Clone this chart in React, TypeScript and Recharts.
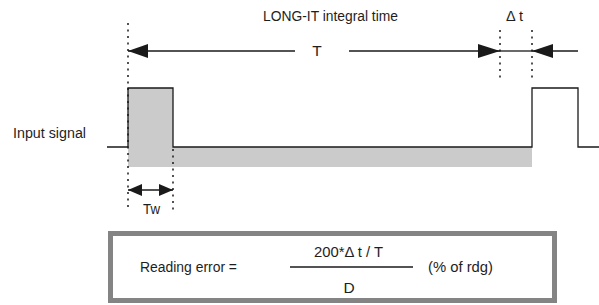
import { ComposedChart, Line, XAxis, YAxis, ReferenceArea, ReferenceLine, Customized } from "recharts";

// signal edges (time units) and levels (0 = low, 1 = high)
const signalTimes = [-21, 0, 45, 404, 450, 471];
const signalLevels = [0, 1, 0, 1, 0, 0];

const pulseWidth = 45; // Tw
const integralTime = 372; // T
const deltaT = 32; // Δt
const integralDepth = 0.34;

const signalData = signalTimes.map((t, i) => ({ t, level: signalLevels[i] }));

const W = 599;
const H = 305;
const X_DOMAIN: [number, number] = [-128, 471];
const BASE_PX = 147;
const LEVEL_PX = 59;
const Y_DOMAIN: [number, number] = [-(H - BASE_PX) / LEVEL_PX, BASE_PX / LEVEL_PX];
const row = (px: number) => (BASE_PX - px) / LEVEL_PX;
const tAt = (px: number) => px + X_DOMAIN[0];

const INK = "#1a1a1a";
const FONT = "'Liberation Sans', Arial, sans-serif";

function arrow(head: number, half: number, start: boolean, end: boolean) {
  return (p: any) => {
    const { x1, y1, x2, y2 } = p;
    return (
      <g>
        <line x1={x1} y1={y1} x2={x2} y2={y2} stroke={INK} strokeWidth={1.3} />
        {start && (
          <polygon points={`${x1},${y1} ${x1 + head},${y1 - half} ${x1 + head},${y1 + half}`} fill={INK} />
        )}
        {end && (
          <polygon points={`${x2},${y2} ${x2 - head},${y2 - half} ${x2 - head},${y2 + half}`} fill={INK} />
        )}
      </g>
    );
  };
}

function seg(xa: number, xb: number, ya: number, yb = ya) {
  return [
    { x: xa, y: ya },
    { x: xb, y: yb },
  ];
}

const dotted = { stroke: INK, strokeWidth: 1.5, strokeDasharray: "2 4.5" };

// condensed look: squeeze each label to its width in the reference
function T(props: { x: number; y: number; w?: number; anchor?: "start" | "middle"; children: string }) {
  const { x, y, w, anchor = "start", children } = props;
  return (
    <text
      x={x}
      y={y}
      textAnchor={anchor}
      fontFamily={FONT}
      fontSize={15.5}
      fill="#1e1e1e"
      textLength={w}
      lengthAdjust={w ? "spacingAndGlyphs" : undefined}
    >
      {children}
    </text>
  );
}

function Annotations() {
  return (
    <g>
      <T x={263} y={21} w={135}>LONG-IT integral time</T>
      <T x={317} y={56} anchor="middle">T</T>
      <T x={506} y={21} w={17}>Δ t</T>
      <T x={13} y={138} w={73}>Input signal</T>
      <T x={143} y={214} w={17}>Tw</T>
      <rect x={110.5} y={233.5} width={444} height={67} fill="none" stroke="#848484" strokeWidth={5} />
      <T x={140} y={272} w={97}>Reading error =</T>
      <T x={314} y={257} w={69}>200*Δ t / T</T>
      <line x1={290} y1={267} x2={413} y2={267} stroke={INK} strokeWidth={1.3} />
      <T x={349} y={293} anchor="middle">D</T>
      <T x={428} y={272} w={65}>(% of rdg)</T>
    </g>
  );
}

export default function App() {
  const tRow = row(51);
  return (
    <div style={{ position: "absolute", left: 0, top: 0, width: W, height: H, background: "#fff" }}>
      <ComposedChart width={W} height={H} data={signalData} margin={{ top: 0, right: 0, bottom: 0, left: 0 }}>
        <XAxis dataKey="t" type="number" domain={X_DOMAIN} allowDataOverflow hide />
        <YAxis type="number" domain={Y_DOMAIN} allowDataOverflow hide />
        <ReferenceArea
          x1={0}
          x2={integralTime + deltaT}
          y1={-integralDepth}
          y2={0}
          fill="#cbcbcb"
          fillOpacity={1}
          stroke="none"
          ifOverflow="visible"
        />
        <ReferenceArea x1={0} x2={pulseWidth} y1={0} y2={1} fill="#cbcbcb" fillOpacity={1} stroke="none" ifOverflow="visible" />
        <Line
          dataKey="level"
          type="stepAfter"
          stroke={INK}
          strokeWidth={1.3}
          dot={false}
          activeDot={false}
          legendType="none"
          isAnimationActive={false}
        />
        <ReferenceLine segment={seg(0, 0, row(23), row(210))} {...dotted} ifOverflow="visible" />
        <ReferenceLine segment={seg(pulseWidth, pulseWidth, row(149), row(210))} {...dotted} ifOverflow="visible" />
        <ReferenceLine segment={seg(integralTime, integralTime, row(30), row(82))} {...dotted} ifOverflow="visible" />
        <ReferenceLine
          segment={seg(integralTime + deltaT, integralTime + deltaT, row(30), row(82))}
          {...dotted}
          ifOverflow="visible"
        />
        <ReferenceLine segment={seg(0, tAt(295), tRow)} shape={arrow(20, 7, true, false)} ifOverflow="visible" />
        <ReferenceLine segment={seg(tAt(349), integralTime, tRow)} shape={arrow(22, 7, false, true)} ifOverflow="visible" />
        <ReferenceLine segment={seg(integralTime, integralTime + deltaT, tRow)} shape={arrow(0, 0, false, false)} ifOverflow="visible" />
        <ReferenceLine
          segment={seg(integralTime + deltaT, 450, tRow)}
          shape={arrow(21, 7, true, false)}
          ifOverflow="visible"
        />
        <ReferenceLine segment={seg(0, pulseWidth, row(190))} shape={arrow(14, 6, true, true)} ifOverflow="visible" />
        <Customized component={<Annotations />} />
      </ComposedChart>
    </div>
  );
}
